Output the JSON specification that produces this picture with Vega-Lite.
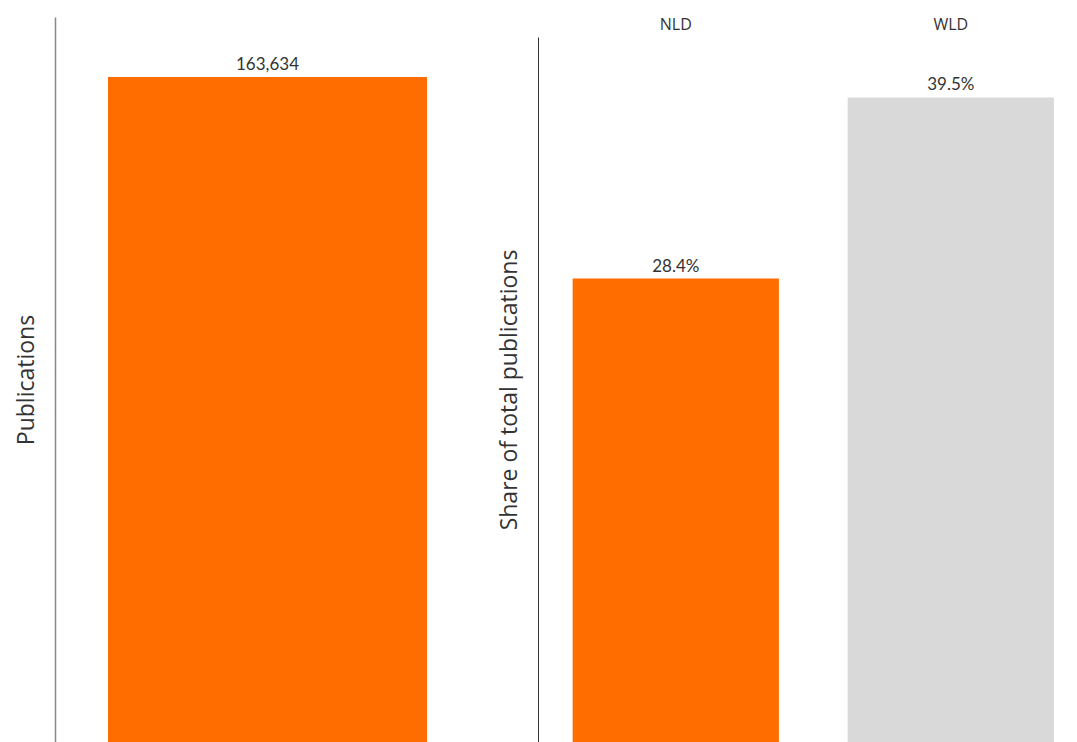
{
  "$schema": "https://vega.github.io/schema/vega-lite/v6.json",
  "padding": {"left": 15, "top": 17, "right": 0, "bottom": 0},
  "background": "white",
  "config": {
    "view": {"stroke": null},
    "font": "Open Sans",
    "axis": {"grid": false}
  },
  "spacing": 18,
  "hconcat": [
    {
      "width": 425,
      "height": 725,
      "data": {"values": [{"country": "NLD", "publications": 163634}]},
      "encoding": {
        "x": {"field": "country", "type": "nominal", "axis": null,
              "scale": {"paddingInner": 0, "paddingOuter": 0.166}},
        "y": {"field": "publications", "type": "quantitative",
              "scale": {"domain": [0, 178400]},
              "axis": {"title": "Publications", "labels": false, "ticks": false,
                       "domainColor": "#888888", "domainWidth": 1.5,
                       "titleFontSize": 23, "titleFontWeight": "normal", "titleColor": "#333333", "titlePadding": 17}}
      },
      "layer": [
        {"mark": {"type": "bar", "color": "#FF6D00"}},
        {"mark": {"type": "text", "dy": -12, "fontSize": 17, "color": "#333333", "font": "Lato"},
         "encoding": {"text": {"field": "publications", "type": "quantitative", "format": ",d"}}}
      ]
    },
    {
      "spacing": 0,
      "data": {"values": [{"country": "NLD", "share": 0.284}, {"country": "WLD", "share": 0.395}]},
      "vconcat": [
        {
          "width": 539,
          "height": 20,
          "mark": {"type": "text", "fontSize": 16, "color": "#333333", "baseline": "middle", "dy": -2},
          "encoding": {
            "x": {"field": "country", "type": "nominal", "axis": null,
                  "scale": {"type": "band", "paddingInner": 0.25, "paddingOuter": 0.105, "align": 0.6}},
            "text": {"field": "country", "type": "nominal"}
          }
        },
        {
          "width": 539,
          "height": 705,
          "encoding": {
            "x": {"field": "country", "type": "nominal", "axis": null,
                  "scale": {"type": "band", "paddingInner": 0.25, "paddingOuter": 0.105, "align": 0.6}},
            "y": {"field": "share", "type": "quantitative",
                  "scale": {"domain": [0, 0.432]},
                  "axis": {"title": "Share of total publications", "labels": false, "ticks": false,
                           "domainColor": "#333333", "domainWidth": 1,
                           "titleFontSize": 23, "titleFontWeight": "normal", "titleColor": "#333333", "titlePadding": 17}},
            "color": {"field": "country", "type": "nominal", "legend": null,
                      "scale": {"domain": ["NLD", "WLD"], "range": ["#FF6D00", "#D9D9D9"]}}
          },
          "layer": [
            {"mark": {"type": "bar"}},
            {"mark": {"type": "text", "dy": -12, "fontSize": 17, "color": "#333333", "font": "Lato"},
             "encoding": {"text": {"field": "share", "type": "quantitative", "format": ".1%"}, "color": {"value": "#333333"}}}
          ]
        }
      ]
    }
  ]
}
